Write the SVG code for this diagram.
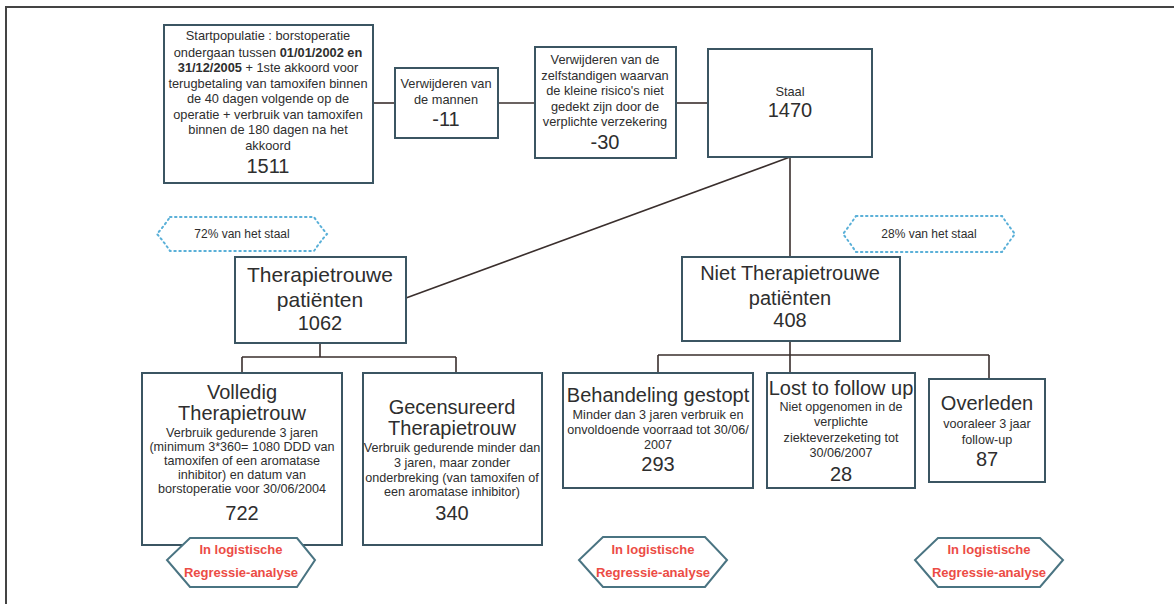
<svg xmlns="http://www.w3.org/2000/svg" width="1174" height="604" viewBox="0 0 1174 604">
<style>
text{font-family:"Liberation Sans",Arial,sans-serif;fill:#2e2e2e;text-anchor:middle}
.box{fill:#fff;stroke:#3b5562;stroke-width:2}
.s{font-size:12.6px}
.t{font-size:12.8px}
.m{font-size:20px}
.n{font-size:20px}
.b{font-weight:bold}
.c{fill:none;stroke:#3a2f2d;stroke-width:1.6}
.dot{fill:#fff;stroke:#5ab0d8;stroke-width:2;stroke-dasharray:1.5 3.5;stroke-linecap:round}
.hex{fill:#fff;stroke:#4a7482;stroke-width:2}
.r{font-size:13px;font-weight:bold;fill:#ec4c45}
</style>
<rect width="1174" height="604" fill="#fff"/>
<path d="M6 604 V7 H1174" fill="none" stroke="#444" stroke-width="2"/>
<g id="connectors">
<line class="c" x1="373" y1="103" x2="395" y2="103"/>
<line class="c" x1="498" y1="103" x2="535" y2="103"/>
<line class="c" x1="676" y1="103" x2="708" y2="103"/>
<line class="c" x1="790" y1="157" x2="406" y2="298"/>
<line class="c" x1="790" y1="157" x2="790" y2="257"/>
<path class="c" d="M320 343 V357 M242 357 H456 M242 357 V373 M456 357 V373"/>
<path class="c" d="M790 341 V355 M658 355 H989 M658 355 V373 M790 355 V373 M989 355 V379"/>
</g>
<g id="start">
<rect class="box" x="164" y="25" width="209" height="158"/>
<text class="t" x="268" y="40">Startpopulatie : borstoperatie</text>
<text class="t" x="268" y="57">ondergaan tussen <tspan class="b">01/01/2002 en</tspan></text>
<text class="t" x="268" y="72"><tspan class="b">31/12/2005</tspan> + 1ste akkoord voor</text>
<text class="t" x="268" y="88">terugbetaling van tamoxifen binnen</text>
<text class="t" x="268" y="103">de 40 dagen volgende op de</text>
<text class="t" x="268" y="119">operatie + verbruik van tamoxifen</text>
<text class="t" x="268" y="134">binnen de 180 dagen na het</text>
<text class="t" x="268" y="150">akkoord</text>
<text class="n" x="268" y="173">1511</text>
</g>
<g id="mannen">
<rect class="box" x="395" y="68" width="103" height="70"/>
<text class="t" x="446" y="88">Verwijderen van</text>
<text class="t" x="446" y="104">de mannen</text>
<text class="n" x="446" y="126">-11</text>
</g>
<g id="zelfstandigen">
<rect class="box" x="535" y="47" width="141" height="111"/>
<text class="t" x="605" y="64">Verwijderen van de</text>
<text class="t" x="605" y="80">zelfstandigen waarvan</text>
<text class="t" x="605" y="95">de kleine risico's niet</text>
<text class="t" x="605" y="111">gedekt zijn door de</text>
<text class="t" x="605" y="126">verplichte verzekering</text>
<text class="n" x="605" y="149">-30</text>
</g>
<g id="staal">
<rect class="box" x="708" y="49" width="164" height="108"/>
<text class="t" x="790" y="96">Staal</text>
<text class="n" x="790" y="117">1470</text>
</g>
<g id="pct72">
<path class="dot" d="M170 217 H314 Q320 226 327 234 Q320 242 314 251 H170 Q164 242 157 234 Q164 226 170 217 Z"/>
<text x="242" y="238" style="font-size:12px">72% van het staal</text>
</g>
<g id="pct28">
<path class="dot" d="M856 216 H1002 Q1008 225 1015 234 Q1008 243 1002 252 H856 Q850 243 843 234 Q850 225 856 216 Z"/>
<text x="929" y="238" style="font-size:12px">28% van het staal</text>
</g>
<g id="therapietrouw">
<rect class="box" x="235" y="257" width="171" height="86"/>
<text class="m" x="320" y="282" style="font-size:21px">Therapietrouwe</text>
<text class="m" x="320" y="307" style="font-size:21px">patiënten</text>
<text class="m" x="320" y="330">1062</text>
</g>
<g id="niet">
<rect class="box" x="682" y="257" width="218" height="84"/>
<text class="m" x="790" y="280">Niet Therapietrouwe</text>
<text class="m" x="790" y="305">patiënten</text>
<text class="m" x="790" y="327">408</text>
</g>
<g id="volledig">
<rect class="box" x="142" y="373" width="200" height="172"/>
<text class="m" x="242" y="399">Volledig</text>
<text class="m" x="242" y="420">Therapietrouw</text>
<text class="s" x="242" y="437">Verbruik gedurende 3 jaren</text>
<text class="s" x="242" y="451">(minimum 3*360= 1080 DDD van</text>
<text class="s" x="242" y="465">tamoxifen of een aromatase</text>
<text class="s" x="242" y="479">inhibitor) en datum van</text>
<text class="s" x="242" y="493">borstoperatie voor 30/06/2004</text>
<text class="n" x="242" y="520">722</text>
</g>
<g id="gecensureerd">
<rect class="box" x="363" y="373" width="179" height="172"/>
<text class="m" x="452" y="414">Gecensureerd</text>
<text class="m" x="452" y="435">Therapietrouw</text>
<text class="s" x="452" y="452">Verbruik gedurende minder dan</text>
<text class="s" x="452" y="467">3 jaren, maar zonder</text>
<text class="s" x="452" y="482">onderbreking (van tamoxifen of</text>
<text class="s" x="452" y="496">een aromatase inhibitor)</text>
<text class="n" x="452" y="520">340</text>
</g>
<g id="gestopt">
<rect class="box" x="563" y="373" width="190" height="115"/>
<text class="m" x="658" y="402">Behandeling gestopt</text>
<text class="s" x="658" y="419">Minder dan 3 jaren verbruik en</text>
<text class="s" x="658" y="434">onvoldoende voorraad tot 30/06/</text>
<text class="s" x="658" y="449">2007</text>
<text class="n" x="658" y="471">293</text>
</g>
<g id="lost">
<rect class="box" x="767" y="373" width="148" height="115"/>
<text class="m" x="841" y="395">Lost to follow up</text>
<text class="s" x="841" y="411">Niet opgenomen in de</text>
<text class="s" x="841" y="426">verplichte</text>
<text class="s" x="841" y="442">ziekteverzeketing tot</text>
<text class="s" x="841" y="457">30/06/2007</text>
<text class="n" x="841" y="481">28</text>
</g>
<g id="overleden">
<rect class="box" x="929" y="379" width="116" height="103"/>
<text class="m" x="987" y="410">Overleden</text>
<text class="s" x="987" y="428">vooraleer 3 jaar</text>
<text class="s" x="987" y="444">follow-up</text>
<text class="n" x="987" y="466">87</text>
</g>
<g id="reg1">
<path class="hex" d="M190 538 H297 L315 560 L297 587 H190 L167 560 Z"/>
<text class="r" x="241" y="554">In logistische</text>
<text class="r" x="241" y="577">Regressie-analyse</text>
</g>
<g id="reg2">
<path class="hex" d="M603 537 H705 L727 560 L705 587 H603 L579 560 Z"/>
<text class="r" x="653" y="554">In logistische</text>
<text class="r" x="653" y="577">Regressie-analyse</text>
</g>
<g id="reg3">
<path class="hex" d="M938 538 H1040 L1063 560 L1040 587 H938 L915 560 Z"/>
<text class="r" x="989" y="554">In logistische</text>
<text class="r" x="989" y="577">Regressie-analyse</text>
</g>
</svg>
